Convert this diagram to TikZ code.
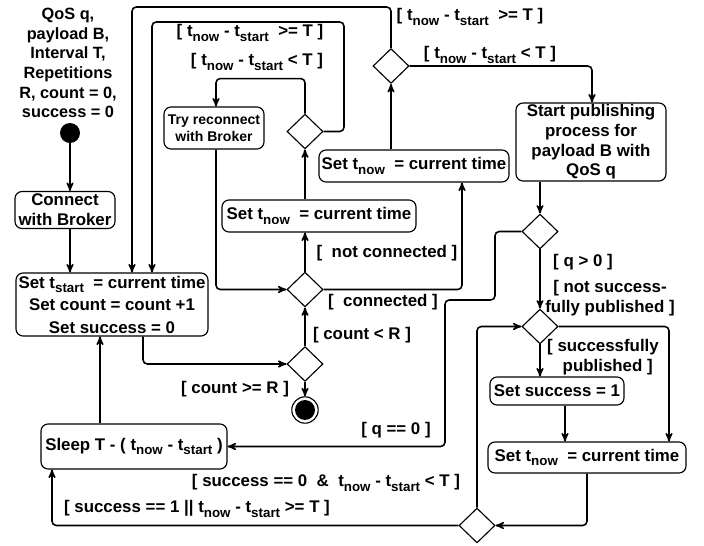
\documentclass[tikz,border=0pt]{standalone}
\usepackage{fontspec}
\setmainfont{Liberation Sans}
\usetikzlibrary{arrows}
\usetikzlibrary{shapes.geometric}

\newcommand{\tsub}[1]{t\raisebox{-3pt}{\fontsize{9.5}{10}\selectfont #1}}
\newcommand{\tnow}{\tsub{now}}
\newcommand{\tstart}{\tsub{start}}

\begin{document}
\begin{tikzpicture}[x=.25mm, y=-.25mm,
every node/.style={font=\bfseries\fontsize{12}{14}\selectfont},
box/.style={draw, rounded corners=5pt, line width=.8pt, align=center, inner sep=1pt},
dec/.style={draw, diamond, line width=.8pt, minimum width=.9cm, minimum height=.87cm, inner sep=0pt},
flow/.style={->, >=stealth', line width=1.1pt, rounded corners=3pt},
guard/.style={align=center, inner sep=1pt}]
\useasboundingbox (0,0) rectangle (704,546);

% start
\node[align=center, font=\bfseries\fontsize{11.6}{14}\selectfont] (params) at (68,63) {QoS q,\\payload B,\\Interval T,\\Repetitions\\R, count = 0,\\success = 0};
\node[circle, fill, minimum size=.5cm, inner sep=0pt] (init) at (70,133) {};
\node[box, minimum width=2.5cm, minimum height=.925cm] (connect) at (65,210) {Connect\\with Broker};
\node[box, minimum width=4.8cm, minimum height=1.575cm] (setstart) at (112,304.5) {Set \tstart{}~ = current time\\[2pt]Set count = count +1\\[2pt]Set success = 0};

% connection checks
\node[dec] (d1) at (305,364) {};
\node[circle, draw, line width=.8pt, minimum size=.66cm, inner sep=0pt,
  path picture={\fill (path picture bounding box.center) circle (.25cm);}] (stop) at (305,410) {};
\node[dec] (d2) at (305,289.5) {};
\node[box, minimum width=4.85cm, minimum height=.8cm] (nowmid) at (319,216) {Set \tnow{}~ = current time};
\node[dec] (d3) at (305,131.5) {};
\node[box, minimum width=2.5cm, minimum height=1.05cm, font=\bfseries\fontsize{10}{12}\selectfont] (tryrec) at (214,128) {Try reconnect\\with Broker};
\node[box, minimum width=4.75cm, minimum height=.8cm] (nowup) at (414,166) {Set \tnow{}~ = current time};
\node[dec] (d4) at (391,66) {};

% publishing
\node[box, minimum width=3.75cm, minimum height=1.95cm] (publish) at (591,142) {Start publishing\\process for\\payload B with\\QoS q};
\node[dec] (d5) at (540,231.5) {};
\node[dec] (d6) at (540,326.5) {};
\node[box, minimum width=3.35cm, minimum height=.7cm] (succ) at (557,391) {Set success = 1};
\node[box, minimum width=4.95cm, minimum height=.775cm] (nowlow) at (587,457.5) {Set \tnow{}~ = current time};
\node[dec] (d7) at (477,525.5) {};
\node[box, minimum width=4.65cm, minimum height=1.125cm] (sleep) at (134,446.5) {Sleep T - ( \tnow{} - \tstart{} )};

% guards
\node[guard] (gtop1) at (250,33) {[ \tnow{} - \tstart{}~ >= T ]};
\node[guard] (gtop2) at (257,62) {[ \tnow{} - \tstart{} < T ]};
\node[guard] (gright1) at (470,17) {[ \tnow{} - \tstart{}~ >= T ]};
\node[guard] (gright2) at (490,55) {[ \tnow{} - \tstart{} < T ]};
\node[guard] (gnotconn) at (387,253) {[~ not connected ]};
\node[guard] (gconn) at (383,302) {[~ connected ]};
\node[guard] (gcntlt) at (362,335) {[ count < R ]};
\node[guard] (gcntge) at (235,389) {[ count >= R ]};
\node[guard] (gq0) at (396,430) {[ q == 0 ]};
\node[guard] (gqgt) at (583,262) {[ q > 0 ]};
\node[guard] (gnotpub) at (610,298) {[ not success-\\fully published ]};
\node[guard] (gpub) at (603,357) {[ successfully\\~~published ]};
\node[guard] (gs0) at (326,483) {[ success == 0~ \&~ \tnow{} - \tstart{} < T ]};
\node[guard] (gs1) at (197,509) {[ success == 1 \textbar\textbar{} \tnow{} - \tstart{} >= T ]};

% connectors
\draw[flow] (init) -- (init |- connect.north);
\draw[flow] (connect.south -| init) -- (setstart.north -| init);
\draw[flow] (setstart.south -| 143,0) |- (d1.west);
\draw[flow] (d1.north) -- (d2.south);
\draw[flow] (d1.south) -- (stop);
\draw[flow] (d2.north) -- (d2.north |- nowmid.south);
\draw[flow] (d3.south |- nowmid.north) -- (d3.south);
\draw[flow] (d2.east) -| (nowup.south -| 462,0);
\draw[flow] (d4.south |- nowup.north) -- (d4.south);
\draw[flow] (d4.east) -| (publish.north -| 592,0);
\draw[flow] (d4.north) |- (132,7) -- (setstart.north -| 132,0);
\draw[flow] (d3.east) -| (344,22) -| (setstart.north -| 152,0);
\draw[flow] (d3.north) -- ++(0,-35) -| (tryrec.north -| 216,0);
\draw[flow] (tryrec.south -| 216,0) |- (d2.west);
\draw[flow] (publish.south -| d5.north) -- (d5.north);
\draw[flow] (d5.west) -| (495,300) -| (sleep.east -| 445,0) -- (sleep.east);
\draw[flow] (d5.south) -- (d6.north);
\draw[flow] (d6.east) -| (nowlow.north -| 669,0);
\draw[flow] (d6.south) -- (d6.south |- succ.north);
\draw[flow] (succ.south -| 565,0) -- (nowlow.north -| 565,0);
\draw[flow] (nowlow.south) |- (d7.east);
\draw[flow] (d7.north) |- (d6.west);
\draw[flow] (d7.west) -| (sleep.south -| 52,0);
\draw[flow] (sleep.north -| 100,0) -- (setstart.south -| 100,0);
\end{tikzpicture}
\end{document}
